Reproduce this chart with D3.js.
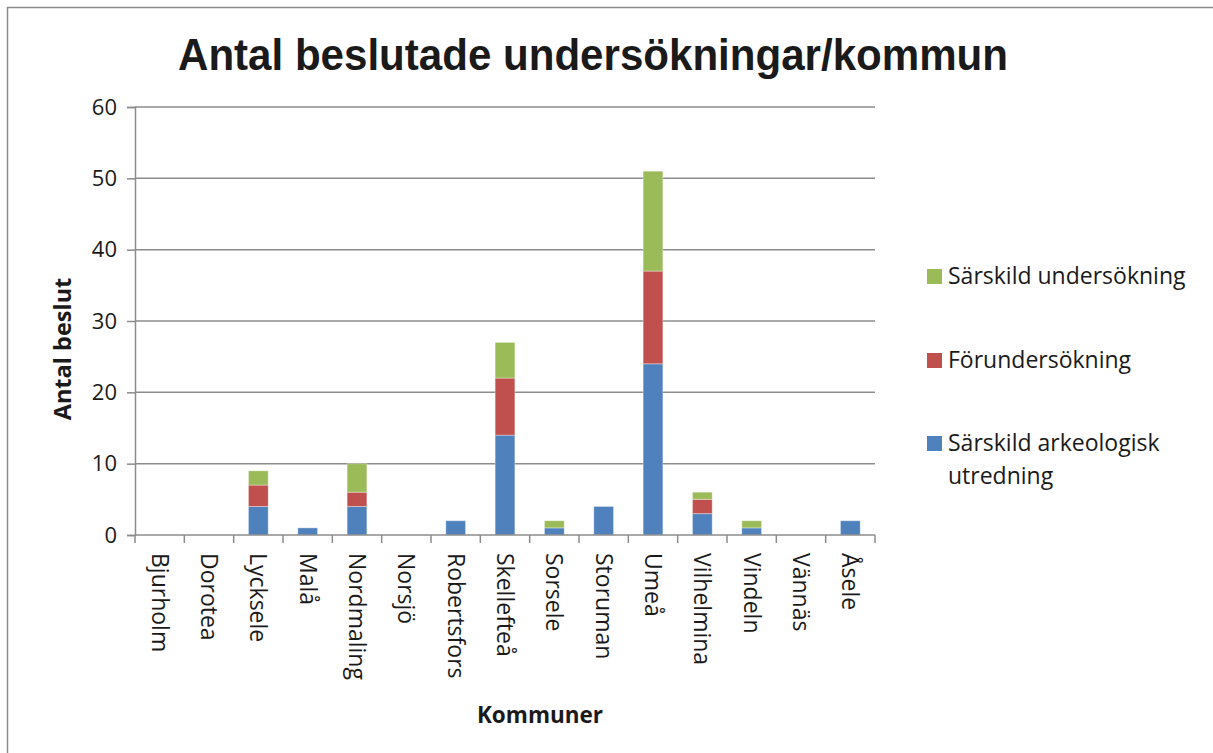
<!DOCTYPE html>
<html>
<head>
<meta charset="utf-8">
<script src="https://cdn.jsdelivr.net/npm/d3@7"></script>
<style>
  body { margin: 0; background: #fff; }
  text { fill: #1a1a1a; }
</style>
</head>
<body>
<div id="chart"></div>
<script>
// kommuner (categories)
const kommuner = ["Bjurholm", "Dorotea", "Lycksele", "Malå", "Nordmaling", "Norsjö",
    "Robertsfors", "Skellefteå", "Sorsele", "Storuman", "Umeå", "Vilhelmina",
    "Vindeln", "Vännäs", "Åsele"];

// series values, bottom to top
const arkeologiskUtredning = [0, 0, 4, 1, 4, 0, 2, 14, 1, 4, 24, 3, 1, 0, 2];
const forundersokning      = [0, 0, 3, 0, 2, 0, 0, 8, 0, 0, 13, 2, 0, 0, 0];
const sarskildUndersokning = [0, 0, 2, 0, 4, 0, 0, 5, 1, 0, 14, 1, 1, 0, 0];

const seriesNames = ["Särskild arkeologisk utredning", "Förundersökning", "Särskild undersökning"];
const seriesColors = ["#4f81bd", "#c0504d", "#9bbb59"];
const yTicks = [0, 10, 20, 30, 40, 50, 60];

const width = 1213, height = 753;
const plotLeft = 135, plotRight = 875, plotTop = 107, plotBottom = 535;
const bodyFont = "'Open Sans', Lato, sans-serif";

const svg = d3.select("#chart").append("svg")
    .attr("width", width)
    .attr("height", height)
    .style("font-family", bodyFont);

// outer frame
svg.append("rect")
    .attr("x", 7.5).attr("y", 7.5)
    .attr("width", width + 20).attr("height", height + 20)
    .attr("fill", "none").attr("stroke", "#8c8c8c").attr("stroke-width", 1.5);

// build table for the stack
const table = kommuner.map((k, i) => ({
    kommun: k,
    s0: arkeologiskUtredning[i],
    s1: forundersokning[i],
    s2: sarskildUndersokning[i]
}));
const stacked = d3.stack().keys(["s0", "s1", "s2"])(table);

const x = d3.scaleBand().domain(kommuner).range([plotLeft, plotRight]).paddingInner(0.6).paddingOuter(0.3);
const xTickScale = d3.scaleLinear().domain([0, kommuner.length]).range([plotLeft, plotRight]);
const y = d3.scaleLinear().domain([0, 60]).range([plotBottom, plotTop]);

// gridlines
svg.append("g")
    .selectAll("line").data(yTicks.filter(d => d > 0)).enter().append("line")
    .attr("x1", plotLeft).attr("x2", plotRight)
    .attr("y1", d => y(d)).attr("y2", d => y(d))
    .attr("stroke", "#8c8c8c").attr("stroke-width", 1.5);

// y axis
const yAxis = svg.append("g")
    .attr("transform", `translate(${plotLeft},0)`)
    .call(d3.axisLeft(y).tickValues(yTicks).tickSize(8).tickPadding(10));
yAxis.select(".domain").attr("stroke", "#8c8c8c").attr("stroke-width", 1.5);
yAxis.selectAll(".tick line").attr("stroke", "#8c8c8c").attr("stroke-width", 1.5);
yAxis.selectAll(".tick text").attr("font-size", 22).attr("fill", "#1a1a1a")
    .style("font-family", bodyFont);

// bars
const layers = svg.append("g").selectAll("g").data(stacked).enter().append("g")
    .attr("fill", (d, i) => seriesColors[i]);
layers.selectAll("rect").data(d => d.filter(p => p[1] - p[0] > 0)).enter().append("rect")
    .attr("x", d => x(d.data.kommun))
    .attr("width", x.bandwidth())
    .attr("y", d => y(d[1]))
    .attr("height", d => y(d[0]) - y(d[1]))
    .attr("stroke", "#ffffff").attr("stroke-opacity", 0.35).attr("stroke-width", 1);

// x axis
const xAxisG = svg.append("g");
xAxisG.append("line")
    .attr("x1", plotLeft).attr("x2", plotRight).attr("y1", plotBottom).attr("y2", plotBottom)
    .attr("stroke", "#8c8c8c").attr("stroke-width", 1.5);
xAxisG.selectAll(".xtick").data(d3.range(kommuner.length + 1)).enter().append("line")
    .attr("x1", d => xTickScale(d)).attr("x2", d => xTickScale(d))
    .attr("y1", plotBottom).attr("y2", plotBottom + 8)
    .attr("stroke", "#8c8c8c").attr("stroke-width", 1.5);
xAxisG.selectAll(".xlabel").data(kommuner).enter().append("text")
    .attr("transform", d => `translate(${x(d) + x.bandwidth() / 2},553) rotate(90)`)
    .attr("dy", "0.35em")
    .attr("font-size", 23)
    .text(d => d);

// title
svg.append("text")
    .attr("x", 593).attr("y", 70)
    .attr("text-anchor", "middle")
    .attr("font-size", 45).attr("font-weight", "bold")
    .attr("textLength", 830).attr("lengthAdjust", "spacingAndGlyphs")
    .style("font-family", "'Liberation Sans', Arial, sans-serif")
    .text("Antal beslutade undersökningar/kommun");

// axis titles
svg.append("text")
    .attr("transform", "translate(63,349) rotate(-90)")
    .attr("text-anchor", "middle")
    .attr("dy", "0.35em")
    .attr("font-size", 23.5).attr("font-weight", "bold")
    .text("Antal beslut");
svg.append("text")
    .attr("x", 540).attr("y", 723)
    .attr("text-anchor", "middle")
    .attr("font-size", 22.5).attr("font-weight", "bold")
    .text("Kommuner");

// legend (top to bottom: reverse stack order)
const legendItems = [
    { name: seriesNames[2], color: seriesColors[2], lines: ["Särskild undersökning"], y: 276 },
    { name: seriesNames[1], color: seriesColors[1], lines: ["Förundersökning"], y: 360 },
    { name: seriesNames[0], color: seriesColors[0], lines: ["Särskild arkeologisk", "utredning"], y: 443 }
];
const lg = svg.append("g").selectAll("g").data(legendItems).enter().append("g")
    .attr("transform", d => `translate(927,${d.y})`);
lg.append("rect").attr("x", 0).attr("y", -7).attr("width", 15).attr("height", 15)
    .attr("fill", d => d.color);
lg.append("text")
    .attr("font-size", 23)
    .selectAll("tspan").data(d => d.lines).enter().append("tspan")
    .attr("x", 21)
    .attr("y", (d, i) => i * 33)
    .attr("dy", "0.35em")
    .text(d => d);
</script>
</body>
</html>
